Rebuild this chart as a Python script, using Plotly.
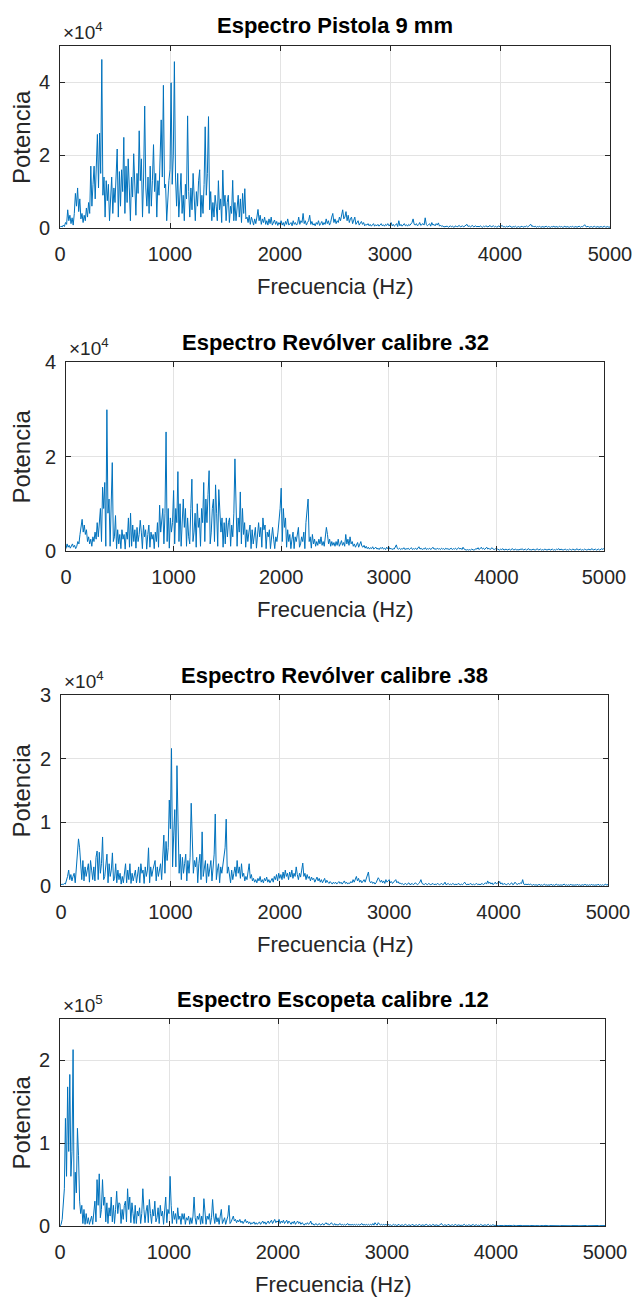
import numpy as np
import plotly.graph_objects as go

FREQ_STEP_HZ = 10  # spectral bin spacing

# ---- Panel 1: Pistola 9 mm (power, units of 1e2) ----
pistola_9mm = [
    2, 5, 3, 8, 4, 15, 10, 50, 20, 35,            # 0 Hz
    12, 28, 8, 40, 95, 60, 110, 45, 80, 25,       # 100
    40, 15, 35, 20, 55, 30, 70, 40, 170, 60,      # 200
    120, 170, 80, 180, 257, 110, 261, 150, 463, 90,  # 300
    140, 30, 130, 75, 120, 20, 95, 140, 40, 110,  # 400
    70, 150, 217, 30, 155, 60, 160, 100, 249, 40,  # 500
    170, 70, 190, 110, 20, 140, 85, 204, 120, 35,  # 600
    150, 95, 267, 130, 190, 30, 140, 335, 110, 60,  # 700
    140, 40, 170, 60, 130, 229, 100, 150, 30, 130,  # 800
    90, 180, 297, 140, 392, 110, 120, 20, 95, 130,  # 900
    160, 399, 120, 200, 457, 140, 60, 150, 30, 110,  # 1000
    150, 40, 90, 20, 120, 80, 308, 100, 30, 110,  # 1100
    50, 150, 90, 20, 100, 60, 130, 160, 30, 90,   # 1200
    40, 120, 278, 90, 150, 306, 50, 100, 20, 70,  # 1300
    30, 90, 60, 20, 130, 50, 80, 15, 159, 60,     # 1400
    90, 20, 70, 90, 15, 60, 40, 131, 20, 70,      # 1500
    20, 60, 90, 30, 80, 15, 95, 40, 108, 25,      # 1600
    30, 15, 35, 10, 30, 20, 8, 25, 12, 30,        # 1700
    51, 20, 35, 10, 25, 15, 30, 10, 20, 8,        # 1800
    25, 12, 30, 8, 15, 22, 10, 18, 7, 15,         # 1900
    10, 20, 8, 15, 5, 18, 10, 25, 8, 12,          # 2000
    15, 6, 20, 10, 15, 8, 12, 30, 10, 20,         # 2100
    15, 40, 12, 20, 8, 15, 20, 35, 10, 18,        # 2200
    8, 12, 6, 15, 10, 20, 7, 12, 18, 8,           # 2300
    15, 10, 25, 12, 20, 8, 15, 30, 40, 15,        # 2400
    25, 12, 20, 15, 30, 20, 35, 50, 25, 30,       # 2500
    45, 20, 35, 15, 25, 30, 12, 20, 30, 10,       # 2600
    15, 20, 8, 12, 18, 10, 15, 6, 10, 8,          # 2700
    12, 6, 10, 5, 8, 12, 5, 9, 6, 10,             # 2800
    5, 8, 12, 6, 9, 5, 10, 7, 12, 6,              # 2900
    8, 15, 6, 10, 5, 8, 12, 4, 20, 6,             # 3000
    10, 5, 8, 12, 6, 9, 5, 10, 7, 12,             # 3100
    15, 25, 10, 8, 12, 6, 9, 15, 7, 10,           # 3200
    12, 8, 28, 10, 6, 9, 12, 5, 15, 8,            # 3300
    10, 6, 12, 8, 14, 5, 8, 4, 6, 3,              # 3400
    4, 3, 5, 2, 4, 6, 3, 5, 2, 4,                 # 3500
    6, 3, 5, 7, 3, 4, 6, 3, 5, 8,                 # 3600
    10, 4, 6, 3, 5, 7, 3, 4, 6, 3,                # 3700
    5, 3, 6, 4, 2, 5, 3, 6, 4, 3,                 # 3800
    5, 7, 3, 4, 6, 3, 5, 2, 4, 6,                 # 3900
    3, 5, 7, 3, 4, 2, 5, 3, 4, 6,                 # 4000
    3, 2, 4, 3, 5, 2, 3, 4, 2, 3,                 # 4100
    5, 2, 4, 3, 6, 3, 4, 8, 10, 4,                # 4200
    6, 3, 5, 2, 4, 3, 5, 2, 3, 4,                 # 4300
    2, 3, 5, 2, 4, 3, 2, 4, 3, 5,                 # 4400
    2, 4, 3, 2, 5, 3, 4, 2, 3, 5,                 # 4500
    2, 4, 3, 2, 4, 3, 5, 2, 3, 4,                 # 4600
    2, 3, 5, 2, 4, 3, 6, 9, 4, 3,                 # 4700
    5, 2, 3, 4, 2, 3, 5, 2, 3, 4,                 # 4800
    2, 3, 4, 2, 3, 5, 2, 3, 4, 2,                 # 4900
    3,                                            # 5000
]

# ---- Panel 2: Revolver calibre .32 (units of 1e2) ----
revolver_32 = [
    5, 15, 8, 12, 6, 10, 15, 8, 12, 5,            # 0 Hz
    10, 20, 15, 35, 50, 67, 40, 55, 35, 45,       # 100
    20, 30, 15, 25, 10, 30, 20, 40, 25, 60,       # 200
    30, 55, 90, 20, 135, 90, 145, 10, 299, 80,    # 300
    110, 10, 90, 187, 20, 30, 75, 5, 45, 15,      # 400
    35, 5, 45, 25, 35, 4, 40, 25, 70, 8,          # 500
    80, 10, 55, 20, 45, 6, 50, 20, 35, 65,        # 600
    40, 5, 55, 30, 45, 4, 35, 55, 8, 40,          # 700
    25, 35, 5, 40, 20, 60, 8, 97, 40, 70,         # 800
    90, 15, 80, 252, 20, 90, 6, 70, 40, 60,       # 900
    128, 15, 90, 60, 168, 20, 100, 10, 80, 110,   # 1000
    50, 90, 10, 70, 30, 15, 90, 152, 20, 40,      # 1100
    80, 8, 100, 50, 70, 10, 90, 60, 145, 20,      # 1200
    110, 60, 120, 170, 15, 40, 90, 110, 20, 140,  # 1300
    80, 10, 130, 90, 40, 70, 8, 60, 15, 70,       # 1400
    30, 60, 70, 10, 55, 30, 80, 195, 90, 10,      # 1500
    70, 40, 125, 15, 90, 35, 60, 8, 45, 20,       # 1600
    40, 55, 5, 45, 15, 35, 50, 6, 40, 60,         # 1700
    30, 50, 8, 70, 45, 55, 5, 40, 30, 45,         # 1800
    5, 35, 50, 25, 5, 30, 20, 40, 60, 90,         # 1900
    133, 20, 90, 50, 70, 8, 45, 20, 35, 5,        # 2000
    25, 40, 5, 30, 20, 35, 50, 8, 15, 30,         # 2100
    20, 40, 5, 60, 80, 110, 20, 30, 6, 35,        # 2200
    15, 25, 10, 20, 12, 25, 15, 30, 12, 20,       # 2300
    10, 25, 50, 35, 15, 25, 10, 20, 12, 18,       # 2400
    10, 20, 12, 25, 10, 15, 22, 12, 18, 10,       # 2500
    35, 15, 25, 12, 30, 15, 20, 10, 15, 8,        # 2600
    12, 18, 8, 15, 20, 10, 8, 12, 6, 10,          # 2700
    5, 8, 4, 7, 5, 9, 4, 6, 8, 4,                 # 2800
    6, 3, 7, 5, 8, 4, 6, 3, 8, 5,                 # 2900
    9, 4, 6, 3, 5, 4, 8, 13, 5, 4,                # 3000
    6, 3, 5, 4, 7, 3, 5, 4, 6, 3,                 # 3100
    5, 7, 3, 5, 4, 6, 3, 5, 9, 4,                 # 3200
    6, 3, 5, 4, 7, 3, 5, 4, 6, 3,                 # 3300
    5, 8, 4, 5, 3, 6, 4, 5, 3, 6,                 # 3400
    4, 5, 3, 6, 4, 5, 3, 4, 6, 3,                 # 3500
    5, 4, 6, 3, 5, 7, 4, 6, 3, 8,                 # 3600
    4, 3, 2, 3, 2, 3, 2, 4, 3, 2,                 # 3700
    3, 5, 4, 7, 3, 5, 8, 4, 6, 3,                 # 3800
    5, 8, 4, 6, 3, 5, 7, 4, 3, 5,                 # 3900
    3, 4, 3, 2, 4, 3, 5, 2, 3, 4,                 # 4000
    2, 3, 4, 2, 3, 5, 2, 3, 4, 2,                 # 4100
    3, 2, 4, 3, 5, 2, 3, 4, 2, 3,                 # 4200
    5, 2, 3, 2, 4, 3, 2, 3, 5, 2,                 # 4300
    3, 4, 2, 3, 2, 4, 3, 2, 3, 4,                 # 4400
    2, 3, 4, 2, 3, 2, 4, 3, 5, 2,                 # 4500
    4, 3, 2, 3, 4, 2, 3, 2, 4, 3,                 # 4600
    2, 4, 3, 2, 3, 5, 2, 3, 4, 2,                 # 4700
    3, 2, 4, 3, 2, 3, 4, 2, 3, 5,                 # 4800
    2, 3, 4, 2, 3, 4, 2, 3, 5, 3,                 # 4900
    6,                                            # 5000
]

# ---- Panel 3: Revolver calibre .38 (units of 1e2) ----
revolver_38 = [
    2, 3, 2, 4, 3, 8, 15, 25, 10, 18,             # 0 Hz
    8, 15, 20, 5, 30, 45, 74, 60, 35, 10,         # 100
    40, 8, 30, 15, 25, 35, 6, 40, 25, 10,         # 200
    30, 8, 45, 55, 10, 53, 20, 35, 77, 10,        # 300
    15, 30, 50, 5, 35, 15, 25, 52, 8, 12,         # 400
    35, 5, 25, 10, 20, 3, 15, 5, 25, 35,          # 500
    5, 25, 10, 35, 4, 20, 8, 15, 25, 5,           # 600
    20, 30, 5, 35, 20, 25, 4, 30, 15, 25,         # 700
    60, 5, 30, 15, 25, 35, 40, 8, 30, 15,         # 800
    25, 35, 10, 45, 80, 20, 70, 40, 60, 135,      # 900
    90, 216, 30, 80, 120, 30, 189, 100, 20, 50,   # 1000
    10, 45, 20, 35, 50, 8, 40, 20, 45, 130,       # 1100
    80, 20, 40, 30, 45, 5, 35, 50, 10, 85,        # 1200
    15, 30, 40, 5, 35, 15, 30, 40, 8, 30,         # 1300
    50, 113, 10, 25, 35, 5, 30, 20, 35, 50,       # 1400
    60, 105, 20, 30, 20, 5, 25, 10, 20, 30,       # 1500
    15, 40, 20, 30, 12, 35, 15, 20, 8, 15,        # 1600
    10, 20, 35, 12, 18, 8, 12, 6, 10, 5,          # 1700
    12, 8, 15, 6, 10, 5, 12, 8, 14, 6,            # 1800
    10, 5, 8, 12, 6, 15, 10, 18, 8, 20,           # 1900
    12, 18, 10, 22, 12, 25, 15, 20, 10, 22,       # 2000
    14, 25, 12, 20, 15, 30, 18, 10, 20, 14,       # 2100
    25, 36, 15, 20, 10, 18, 12, 15, 8, 14,        # 2200
    10, 12, 6, 10, 14, 8, 12, 6, 10, 5,           # 2300
    8, 12, 5, 9, 6, 4, 7, 5, 3, 6,                # 2400
    4, 6, 3, 5, 7, 4, 6, 3, 5, 8,                 # 2500
    4, 6, 3, 5, 4, 7, 5, 10, 6, 12,               # 2600
    15, 8, 12, 6, 9, 5, 8, 10, 6, 12,             # 2700
    18, 22, 8, 5, 7, 4, 6, 3, 5, 8,               # 2800
    13, 10, 6, 9, 5, 8, 4, 10, 6, 8,              # 2900
    10, 5, 7, 4, 6, 8, 10, 5, 7, 4,               # 3000
    5, 3, 4, 2, 3, 4, 2, 3, 5, 2,                 # 3100
    3, 4, 2, 3, 5, 3, 2, 4, 6, 10,                # 3200
    4, 3, 2, 4, 3, 2, 4, 3, 2, 3,                 # 3300
    4, 2, 3, 2, 4, 3, 2, 3, 4, 2,                 # 3400
    3, 6, 2, 3, 4, 2, 3, 2, 4, 3,                 # 3500
    2, 3, 2, 4, 3, 2, 3, 2, 4, 6,                 # 3600
    3, 2, 3, 2, 4, 3, 2, 3, 2, 3,                 # 3700
    4, 2, 3, 2, 3, 4, 2, 3, 5, 3,                 # 3800
    8, 4, 6, 3, 5, 2, 4, 6, 3, 5,                 # 3900
    4, 7, 3, 5, 2, 4, 3, 2, 3, 4,                 # 4000
    2, 3, 5, 2, 3, 6, 3, 2, 4, 3,                 # 4100
    5, 4, 10, 3, 2, 3, 2, 3, 2, 3,                # 4200
    2, 1, 3, 1, 2, 2, 1, 3, 1, 2,                 # 4300
    1, 2, 3, 1, 2, 1, 2, 1, 3, 1,                 # 4400
    2, 1, 2, 3, 1, 2, 1, 2, 1, 2,                 # 4500
    3, 1, 2, 1, 2, 1, 3, 1, 2, 1,                 # 4600
    2, 1, 3, 1, 2, 1, 2, 2, 1, 3,                 # 4700
    1, 2, 1, 2, 1, 3, 1, 2, 1, 2,                 # 4800
    1, 3, 1, 2, 1, 2, 1, 2, 3, 1,                 # 4900
    3,                                            # 5000
]

# ---- Panel 4: Escopeta calibre .12 (units of 1e3) ----
escopeta_12 = [
    0, 2, 8, 25, 45, 130, 60, 168, 90, 183,       # 0 Hz
    60, 90, 213, 20, 65, 40, 118, 85, 30, 15,     # 100
    25, 3, 20, 2, 15, 3, 10, 2, 8, 12,            # 200
    2, 20, 30, 5, 56, 25, 63, 10, 20, 56,         # 300
    25, 35, 5, 28, 3, 22, 12, 35, 5, 25,          # 400
    3, 20, 42, 15, 28, 27, 3, 20, 8, 25,          # 500
    30, 5, 45, 20, 35, 4, 28, 15, 3, 25,          # 600
    3, 18, 12, 22, 3, 15, 45, 20, 4, 18,          # 700
    25, 4, 32, 15, 3, 20, 12, 30, 5, 10,          # 800
    22, 3, 25, 12, 18, 2, 15, 35, 4, 20,          # 900
    15, 60, 25, 3, 18, 8, 15, 3, 22, 8,           # 1000
    12, 2, 15, 8, 15, 2, 10, 7, 12, 2,            # 1100
    10, 3, 12, 35, 10, 2, 12, 8, 15, 2,           # 1200
    12, 3, 33, 10, 2, 12, 8, 15, 2, 10,           # 1300
    32, 12, 3, 15, 5, 10, 2, 12, 20, 3,           # 1400
    6, 10, 2, 8, 12, 25, 3, 5, 10, 12,            # 1500
    6, 8, 4, 7, 5, 8, 4, 6, 3, 5,                 # 1600
    8, 4, 6, 3, 5, 2, 4, 3, 5, 2,                 # 1700
    4, 2, 3, 5, 2, 4, 6, 3, 5, 2,                 # 1800
    4, 6, 3, 5, 7, 3, 6, 8, 4, 6,                 # 1900
    5, 8, 3, 6, 4, 7, 3, 5, 7, 3,                 # 2000
    6, 4, 2, 5, 3, 6, 2, 4, 6, 3,                 # 2100
    5, 2, 4, 3, 1, 3, 2, 4, 2, 3,                 # 2200
    6, 2, 3, 1, 2, 3, 1, 2, 3, 1,                 # 2300
    2, 3, 1, 2, 4, 2, 3, 1, 2, 4,                 # 2400
    2, 1, 3, 1, 2, 1, 2, 3, 1, 2,                 # 2500
    1, 2, 1, 2, 3, 1, 2, 1, 2, 1,                 # 2600
    2, 1, 2, 1, 2, 1, 2, 3, 1, 2,                 # 2700
    1, 2, 1, 2, 1, 2, 1, 3, 1, 4,                 # 2800
    2, 1, 4, 2, 1, 2, 1, 2, 1, 2,                 # 2900
    1, 2, 1, 1.5, 0.5, 1, 2, 1, 1.5, 0.5,         # 3000
    1, 2, 0.5, 1, 1.5, 0.5, 1, 2, 1, 0.5,         # 3100
    1.5, 1, 0.5, 2, 1, 0.5, 1, 1.5, 0.5, 1,       # 3200
    2, 0.5, 1, 1.5, 0.5, 1, 2, 1, 0.5, 1.5,       # 3300
    1, 0.5, 2, 1, 0.5, 1.5, 1, 0.5, 1, 2,         # 3400
    3, 1, 0.5, 1.5, 1, 0.5, 2, 1, 0.5, 1,         # 3500
    1.5, 0.5, 1, 2, 0.5, 1, 1.5, 0.5, 1, 0.5,     # 3600
    1, 2, 0.5, 1, 0.5, 1.5, 1, 0.5, 1, 2,         # 3700
    0.5, 1, 1.5, 0.5, 1, 0.5, 2, 1, 0.5, 1,       # 3800
    1.5, 0.5, 1, 2, 0.5, 1, 0.5, 1.5, 1, 0.5,     # 3900
    1, 0.5, 0.3, 0.6, 0.4, 0.8, 0.3, 0.5, 0.7, 0.3,  # 4000
    0.5, 0.4, 0.7, 0.3, 0.6, 0.4, 0.8, 0.3, 0.5, 0.4,  # 4100
    0.6, 0.3, 0.5, 0.7, 0.4, 0.3, 0.6, 0.4, 0.8, 0.3,  # 4200
    0.5, 0.4, 0.6, 0.3, 0.7, 0.4, 0.5, 0.3, 0.6, 0.4,  # 4300
    0.3, 0.6, 0.4, 0.5, 0.3, 0.7, 0.4, 0.6, 0.3, 0.5,  # 4400
    0.4, 0.6, 0.3, 0.5, 0.7, 0.3, 0.4, 0.6, 0.3, 0.5,  # 4500
    0.4, 0.3, 0.6, 0.4, 0.5, 0.3, 0.7, 0.4, 0.3, 0.5,  # 4600
    0.6, 0.3, 0.4, 0.5, 0.3, 0.6, 0.4, 0.3, 0.5, 0.4,  # 4700
    0.3, 0.5, 0.4, 0.6, 0.3, 0.4, 0.5, 0.3, 0.6, 0.4,  # 4800
    0.3, 0.5, 0.4, 0.3, 0.6, 0.4, 0.3, 0.5, 0.4, 0.3,  # 4900
    0.5,                                          # 5000
]

titles = ["Espectro Pistola 9 mm", "Espectro Revólver calibre .32",
          "Espectro Revólver calibre .38", "Espectro Escopeta calibre .12"]
series = [pistola_9mm, revolver_32, revolver_38, escopeta_12]
value_units = [1e2, 1e2, 1e2, 1e3]
exponents = [4, 4, 4, 5]
y_max = [5e4, 4e4, 3e4, 2.5e5]
y_ticks = [[0, 2e4, 4e4], [0, 2e4, 4e4], [0, 1e4, 2e4, 3e4], [0, 1e5, 2e5]]
x_ticks = [0, 1000, 2000, 3000, 4000, 5000]

# ---- layout geometry (pixels) ----
W, H = 632, 1297
boxes = [  # left, right, top, bottom
    (60, 610, 46, 228),
    (66, 604, 362, 551),
    (61, 608, 695, 886),
    (60, 605, 1019, 1226),
]

FONT = "Liberation Sans, Arial, Helvetica, sans-serif"
AXC = "#262626"
LINE = "#0072BD"

fig = go.Figure()
annotations = []
layout = dict(width=W, height=H, margin=dict(l=0, r=0, t=0, b=0, pad=0),
              paper_bgcolor="white", plot_bgcolor="white", showlegend=False,
              font=dict(family=FONT, color=AXC), template="none")

for i, (vals, unit) in enumerate(zip(series, value_units)):
    n = i + 1
    sfx = "" if n == 1 else str(n)
    left, right, top, bottom = boxes[i]
    freq = FREQ_STEP_HZ * np.arange(len(vals))
    power = np.asarray(vals, dtype=float) * unit
    fig.add_trace(go.Scatter(x=freq, y=power, mode="lines",
                             line=dict(color=LINE, width=1),
                             xaxis="x" + sfx, yaxis="y" + sfx,
                             hoverinfo="skip"))
    xd = [left / W, right / W]
    yd = [1 - bottom / H, 1 - top / H]
    common = dict(showline=True, linecolor=AXC, linewidth=1, mirror="ticks",
                  ticks="inside", ticklen=5, tickcolor=AXC, showgrid=True,
                  gridcolor="#e3e3e3", gridwidth=1, zeroline=False, automargin=False,
                  ticklabeloverflow="allow",
                  tickfont=dict(size=20, color=AXC, family=FONT))
    layout["xaxis" + sfx] = dict(domain=xd, range=[0, 5000], tickvals=x_ticks,
                                  ticktext=[str(t) for t in x_ticks],
                                  anchor="y" + sfx, ticklabelstandoff=8, **common)
    layout["yaxis" + sfx] = dict(domain=yd, range=[0, y_max[i]], tickvals=y_ticks[i],
                                  ticktext=[f"{t / 10 ** exponents[i]:g}" for t in y_ticks[i]],
                                  anchor="x" + sfx, ticklabelstandoff=5, **common)
    cx = (left + right) / 2 / W
    annotations.append(dict(text=f"<b>{titles[i]}</b>", xref="paper", yref="paper",
                            x=cx, y=1 - (top - 20) / H, xanchor="center", yanchor="middle",
                            showarrow=False, font=dict(size=22, color="black", family=FONT)))
    annotations.append(dict(text=f"×10<sup>{exponents[i]}</sup>", xref="paper", yref="paper",
                            x=(left + 1) / W, y=1 - (top - 1) / H, xanchor="left", yanchor="bottom",
                            showarrow=False, font=dict(size=19, color=AXC, family=FONT)))
    annotations.append(dict(text="Frecuencia (Hz)", xref="paper", yref="paper",
                            x=cx, y=1 - (bottom + 58) / H, xanchor="center", yanchor="middle",
                            showarrow=False, font=dict(size=22, color=AXC, family=FONT)))
    annotations.append(dict(text="Potencia", xref="paper", yref="paper",
                            x=21 / W, y=1 - (top + bottom) / 2 / H, xanchor="center", yanchor="middle",
                            textangle=-90, showarrow=False,
                            font=dict(size=24, color=AXC, family=FONT)))

layout["annotations"] = annotations
fig.update_layout(**layout)
fig.write_html("out.html", config={"displayModeBar": False},
               post_script="document.body.style.margin='0';document.body.style.overflow='hidden';")
